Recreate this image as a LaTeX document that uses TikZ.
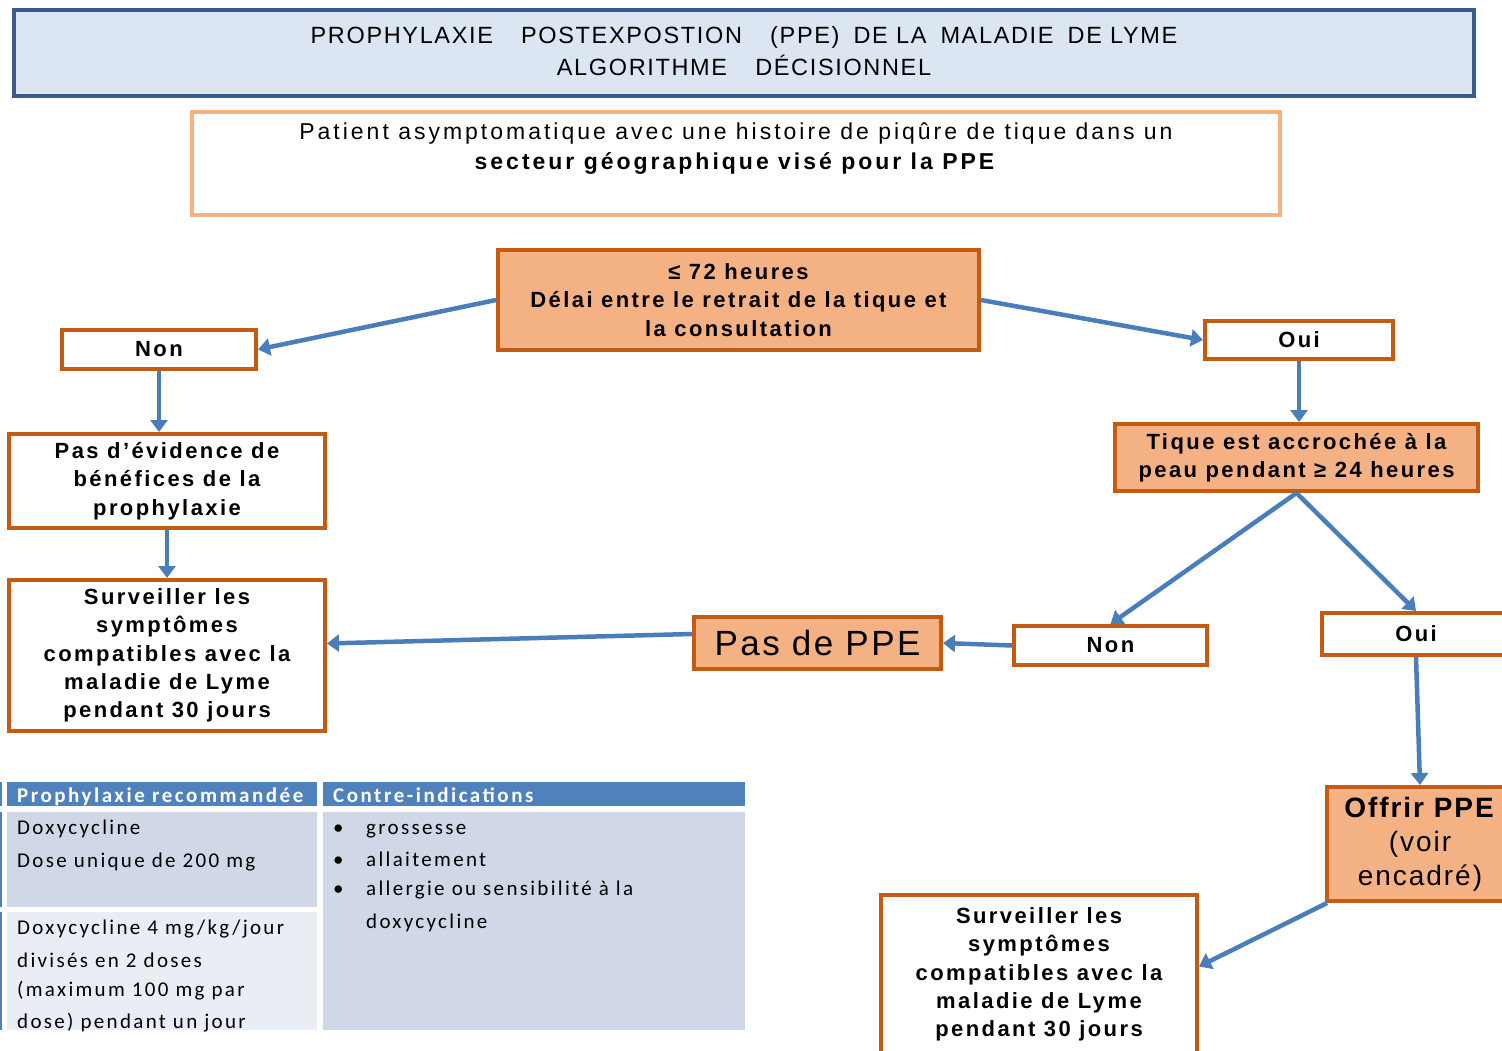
\documentclass[tikz,border=0pt]{standalone}
\usepackage{fontspec}
\setmainfont{Liberation Sans}[LetterSpace=11]
\newfontfamily\titlefont{Liberation Sans}[LetterSpace=7]
\newfontfamily\patfont{Liberation Sans}[LetterSpace=13]
\newfontfamily\ppefont{Liberation Sans}[LetterSpace=7]
\newfontfamily\tabfont{Carlito}[LetterSpace=11]
\newfontfamily\tabhfont{Carlito}[LetterSpace=12]
\usetikzlibrary{arrows.meta}
\definecolor{arrowblue}{HTML}{4A7EBB}
\definecolor{darkor}{HTML}{C55A11}
\definecolor{lightor}{HTML}{F4B183}
\definecolor{titlefill}{HTML}{DCE6F2}
\definecolor{titleline}{HTML}{3A5A8A}
\definecolor{hdrblue}{HTML}{4F81BD}
\definecolor{cellA}{HTML}{D0D8E8}
\definecolor{cellB}{HTML}{E9EDF4}
\tikzset{
  box/.style={draw=darkor, line width=4pt, fill=white, inner sep=0pt, align=center,
    font=\bfseries\fontsize{22}{28.3}\selectfont},
  obox/.style={box, fill=lightor},
  arr/.style={draw=arrowblue, line width=4.5pt, -{Triangle[length=12pt,width=17pt]}},
  tabtxt/.style={anchor=mid west, inner sep=0pt, font=\tabfont\fontsize{21}{26}\selectfont},
  tabhdr/.style={anchor=mid west, inner sep=0pt, text=white, font=\tabhfont\bfseries\fontsize{21}{24}\selectfont},
}
\begin{document}
\begin{tikzpicture}[x=1pt,y=-1pt]
\useasboundingbox (0,0) rectangle (1502,1051);
\clip (0,0) rectangle (1502,1051);
% title
\node[draw=titleline, fill=titlefill, line width=4pt, minimum width=1460, minimum height=86,
  inner sep=0pt] (title) at (744,53) {};
\node[inner sep=0pt, align=center, font=\titlefont\fontsize{23.5}{32}\selectfont] (titletxt) at (744,51)
  {PROPHYLAXIE\hspace{1.2em}POSTEXPOSTION\hspace{1.2em}(PPE)\hspace{0.6em}DE LA\hspace{0.6em}MALADIE\hspace{0.6em}DE LYME\\
   ALGORITHME\hspace{1.2em}DÉCISIONNEL};
% patient
\node[draw=lightor, line width=4pt, fill=white, minimum width=1088, minimum height=103, inner sep=0pt] (patient) at (736,163.5) {};
\node[align=center, inner sep=0pt, font=\patfont\fontsize{23}{30}\selectfont] (patienttxt) at (736,149)
  {Patient asymptomatique avec une histoire de piqûre de tique dans un\\
   \textbf{secteur géographique visé pour la PPE}};
% flow
\node[obox, minimum width=481, minimum height=100] (delay) at (738.5,300)
  {≤ 72 heures\\ Délai entre le retrait de la tique et\\ la consultation};
\node[box, minimum width=194, minimum height=39] (nonL) at (159,349.5) {Non};
\node[box, minimum width=316, minimum height=94] (evid) at (167,481)
  {Pas d’évidence de\\ bénéfices de la\\ prophylaxie};
\node[box, minimum width=316, minimum height=151] (survL) at (167,655.5)
  {Surveiller les\\ symptômes\\ compatibles avec la\\ maladie de Lyme\\ pendant 30 jours};
\node[box, minimum width=188, minimum height=38] (ouiT) at (1299,340) {Oui};
\node[obox, minimum width=363, minimum height=67] (tique) at (1296.5,457.5)
  {Tique est accrochée à la\\ peau pendant ≥ 24 heures};
\node[box, minimum width=193, minimum height=39] (nonM) at (1110.5,645.5) {Non};
\node[box, minimum width=188, minimum height=42] (ouiM) at (1416,634) {Oui};
\node[obox, minimum width=247, minimum height=52, font=\ppefont\fontsize{35}{36}\selectfont] (ppe) at (817.5,643) {Pas de PPE};
\node[obox, minimum width=186, minimum height=114, font=\ppefont\fontsize{28}{34}\selectfont] (offrir) at (1420,844)
  {\textbf{Offrir PPE}\\ (voir\\ encadré)};
\node[box, minimum width=316, minimum height=159] (surv2) at (1039,974.5)
  {Surveiller les\\ symptômes\\ compatibles avec la\\ maladie de Lyme\\ pendant 30 jours};
% arrows
\draw[arr] (delay.west) -- (nonL.east);
\draw[arr] (delay.east) -- (ouiT.west);
\draw[arr] (nonL.south) -- (nonL.south |- evid.north);
\draw[arr] (evid.south) -- (evid.south |- survL.north);
\draw[arr] (ouiT.south) -- (ouiT.south |- tique.north);
\draw[arr] (tique.south) -- (nonM.north);
\draw[arr] (tique.south) -- (ouiM.north);
\draw[arr] (nonM.west) -- (ppe.east);
\draw[arr] ([yshift=9pt]ppe.west) -- ([yshift=12pt]survL.east);
\draw[arr] (ouiM.south) -- (offrir.north);
\draw[arr] ([xshift=2pt]offrir.south west) -- ([yshift=8pt]surv2.east);
% table
\fill[hdrblue] (7,782) rectangle (317,806);
\fill[hdrblue] (323,782) rectangle (745,806);
\fill[cellA] (7,812) rectangle (317,907);
\fill[cellB] (7,912) rectangle (317,1030);
\fill[cellA] (323,812) rectangle (745,1030);
\fill[hdrblue] (0,782) rectangle (2,806);
\fill[hdrblue] (0,812) rectangle (2,907);
\fill[hdrblue] (0,912) rectangle (2,1030);
\node[tabhdr] (h1) at (17,800) {Prophylaxie recommandée};
\node[tabhdr] (h2) at (333,800) {Contre-indications};
\node[tabtxt] (l1) at (17,832) {Doxycycline};
\node[tabtxt] (l2) at (17,865) {Dose unique de 200 mg};
\node[tabtxt] (l3) at (17,932) {Doxycycline 4 mg/kg/jour};
\node[tabtxt] (l4) at (17,965) {divisés en 2 doses};
\node[tabtxt] (l5) at (17,994) {(maximum 100 mg par};
\node[tabtxt] (l6) at (17,1026) {dose) pendant un jour};
\node[tabtxt] (b1) at (333,832) {•};
\node[tabtxt] (b2) at (333,864) {•};
\node[tabtxt] (b3) at (333,893) {•};
\node[tabtxt] (r1) at (366,832) {grossesse};
\node[tabtxt] (r2) at (366,864) {allaitement};
\node[tabtxt] (r3) at (366,893) {allergie ou sensibilité à la};
\node[tabtxt] (r4) at (366,926) {doxycycline};
\end{tikzpicture}
\end{document}
